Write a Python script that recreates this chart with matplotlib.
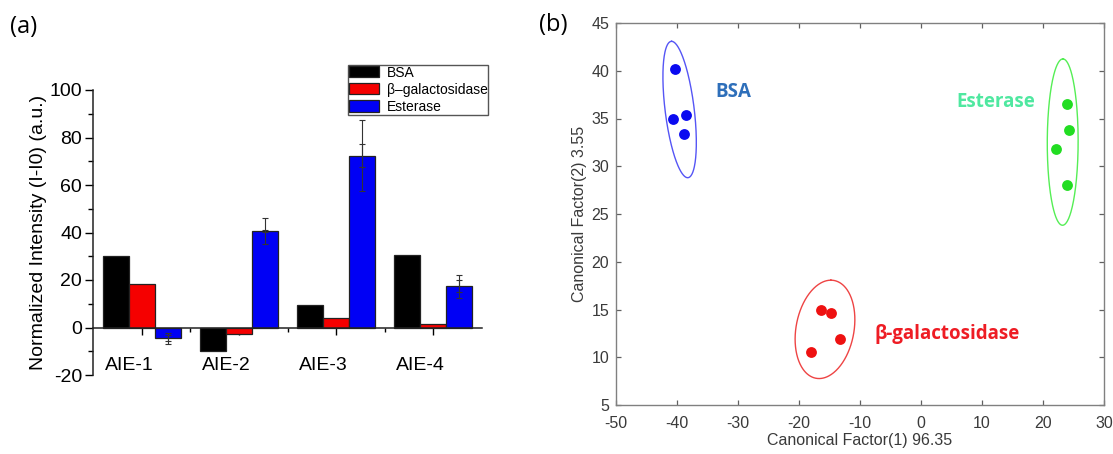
import numpy as np
import matplotlib
matplotlib.use("Agg")
import matplotlib.pyplot as plt

# ---------------- data: panel (a) ----------------
groups = ["AIE-1", "AIE-2", "AIE-3", "AIE-4"]
series = ["BSA", "\u03b2\u2013galactosidase", "Esterase"]
bsa_vals = [30.1, -9.7, 9.3, 30.4]
bgal_vals = [18.4, -2.8, 4.1, 1.3]
est_vals = [-4.5, 40.6, 72.4, 17.3]
est_err = [2.3, 5.6, 15.0, 5.0]
est_err_inner = [1.3, 0.5, 5.0, 2.5]
yticks_a = [-20, 0, 20, 40, 60, 80, 100]

# ---------------- data: panel (b) ----------------
bsa_x = [-40.35, -40.65, -38.55, -38.85]
bsa_y = [40.19, 34.96, 35.35, 33.33]
gal_x = [-16.43, -14.8, -13.3, -18.1]
gal_y = [15.0, 14.6, 11.93, 10.6]
est_x = [23.92, 24.2, 22.06, 23.92]
est_y = [36.53, 33.75, 31.8, 28.03]
# ellipses (BSA, beta-gal, esterase): centre, offset to top vertex, horizontal half-width through centre
ell_cx = [-39.57, -15.74, 23.23]
ell_cy = [35.94, 12.92, 32.53]
ell_ux = [-1.32, 0.97, 0.03]
ell_uy = [7.14, 5.15, 8.71]
ell_w = [2.4, 4.8, 2.53]
cluster_names = ["BSA", "\u03b2-galactosidase", "Esterase"]
cluster_label_x = [-30.8, 4.3, 12.3]
cluster_label_y = [37.75, 12.4, 36.78]
xticks_b = [-50, -40, -30, -20, -10, 0, 10, 20, 30]
yticks_b = [5, 10, 15, 20, 25, 30, 35, 40, 45]

W, H = 1113, 454
plt.rcParams['font.family'] = ['Liberation Sans', 'DejaVu Sans']
plt.rcParams['axes.unicode_minus'] = False
fig = plt.figure(figsize=(W / 100, H / 100), dpi=100)

# ================= panel (a) =================
axa = fig.add_axes([93 / W, 1 - 375 / H, 389 / W, 285 / H])
x = np.arange(len(groups))
w = 0.268
bar_colors = ['#000000', '#f50000', '#0000f5']
for k, (vals, c, lab) in enumerate(zip([bsa_vals, bgal_vals, est_vals], bar_colors, series)):
    axa.bar(x + (k - 1) * w, vals, w, color=c, edgecolor='#222222', linewidth=0.9, label=lab, zorder=2)
axa.errorbar(x + w, est_vals, yerr=est_err, fmt='none', ecolor='#333333',
             elinewidth=0.8, capsize=2.5, capthick=0.8, zorder=3)
axa.errorbar(x + w, est_vals, yerr=est_err_inner, fmt='none', ecolor='#333333',
             elinewidth=0.8, capsize=2.5, capthick=0.8, zorder=3)

axa.set_xlim(-0.5, 3.5)
axa.set_ylim(-20, 100)
for s in ['top', 'right']:
    axa.spines[s].set_visible(False)
axa.spines['bottom'].set_position(('data', 0))
for s in ['left', 'bottom']:
    axa.spines[s].set_linewidth(1.1)
    axa.spines[s].set_color('#222222')
axa.set_yticks(yticks_a)
axa.set_yticks(np.arange(-10, 100, 20), minor=True)
axa.set_xticks(x)
axa.set_xticks(x[:-1] + 0.5, minor=True)
axa.set_xticklabels([])
axa.tick_params(axis='y', which='major', direction='out', length=6, width=1.0, labelsize=14, pad=2)
axa.tick_params(axis='y', which='minor', direction='out', length=3.5, width=1.0)
axa.tick_params(axis='x', which='major', direction='out', length=5, width=1.0)
axa.tick_params(axis='x', which='minor', direction='out', length=3, width=1.0)
for i, g in enumerate(groups):
    axa.text(i - 0.13, -16.0, g, ha='center', va='center', fontsize=14)
axa.set_ylabel("Normalized Intensity (I-I0) (a.u.)", fontsize=14)
axa.yaxis.set_label_coords(-0.117, 0.5)

leg = axa.legend(loc='upper left', bbox_to_anchor=(348 / W, 1 - 65 / H), bbox_transform=fig.transFigure,
                 borderaxespad=0, fontsize=10, frameon=True, fancybox=False, edgecolor='#555555',
                 handlelength=2.15, handleheight=0.85, handletextpad=0.6, labelspacing=0.22,
                 borderpad=0.05, framealpha=1)
leg.get_frame().set_linewidth(1.0)
leg.set_zorder(1)

fig.text(24 / W, 1 - 27 / H, "(a)", fontsize=17, ha='center', va='center', family='Open Sans')

# ================= panel (b) =================
axb = fig.add_axes([616 / W, 1 - 405 / H, 488 / W, 382 / H])
dot_cols = ['#0a0af0', '#ee1111', '#22dd22']
ell_cols = ['#5555f5', '#ee4444', '#55ee55']
txt_cols = ['#2e6fba', '#ee1c24', '#4fe8a0']
for xs, ys, c in zip([bsa_x, gal_x, est_x], [bsa_y, gal_y, est_y], dot_cols):
    axb.plot(xs, ys, 'o', color=c, markersize=7.8, markeredgewidth=0, zorder=3)
t = np.linspace(0, 2 * np.pi, 300)
for i in range(3):
    ex = ell_cx[i] + np.cos(t) * ell_ux[i] + np.sin(t) * ell_w[i]
    ey = ell_cy[i] + np.cos(t) * ell_uy[i]
    axb.plot(ex, ey, color=ell_cols[i], linewidth=1.0, zorder=2)
for i in range(3):
    axb.text(cluster_label_x[i], cluster_label_y[i], cluster_names[i], color=txt_cols[i],
             fontsize=13.5, fontweight='bold', family='Open Sans', ha='center', va='center')

axb.set_xlim(-50, 30)
axb.set_ylim(5, 45)
axb.set_xticks(xticks_b)
axb.set_yticks(yticks_b)
for s in axb.spines.values():
    s.set_color('#808080')
    s.set_linewidth(1.0)
axb.tick_params(direction='in', length=3.5, width=0.9, color='#606060', top=True, right=True,
                labelsize=11.5, labelcolor='#3a3a3a')
axb.tick_params(axis='x', pad=8)
axb.tick_params(axis='y', pad=5)
axb.set_xlabel("Canonical Factor(1) 96.35", fontsize=11.5, color='#3a3a3a', labelpad=1)
axb.set_ylabel("Canonical Factor(2) 3.55", fontsize=11.5, color='#3a3a3a', labelpad=3)

fig.text(553 / W, 1 - 25 / H, "(b)", fontsize=17, ha='center', va='center', family='Open Sans')

fig.savefig("out.png", dpi=100)
